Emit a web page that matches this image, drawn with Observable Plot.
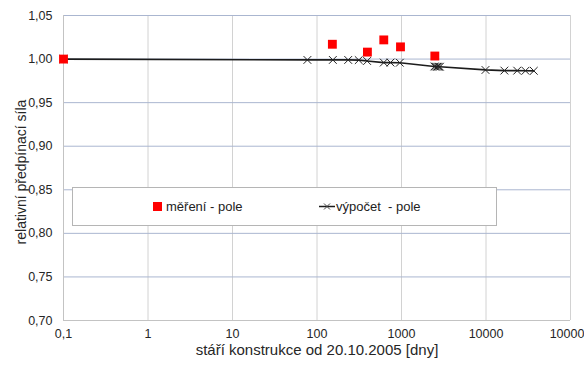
<!DOCTYPE html>
<html>
<head>
<meta charset="utf-8">
<script src="https://cdn.jsdelivr.net/npm/d3@7"></script>
<script src="https://cdn.jsdelivr.net/npm/@observablehq/plot@0.6"></script>
<style>
  body { margin: 0; background: #fff; font-family: "Liberation Sans", Arial, sans-serif; }
  #wrap { position: relative; width: 584px; height: 365px; overflow: hidden; }
  .legend { position: absolute; left: 72px; top: 187px; width: 423px; height: 37px;
            background: #fff; border: 1px solid #b5b5b5; font-size: 13px; color: #222; }
  .legend span { position: absolute; white-space: pre; line-height: 17px; }
  .legend .sq { left: 80px; top: 14px; width: 9px; height: 9px; background: #ff0000; }
  .legend svg { position: absolute; left: 246px; top: 13px; }
</style>
</head>
<body>
<div id="wrap"></div>
<script>
// ---- data ----
const measDays = [0.1, 152, 395, 617, 973, 2480];
const measVals = [1.000, 1.017, 1.008, 1.022, 1.014, 1.0035];

const calcDays = [0.1, 77, 154, 234, 312, 392, 617, 741, 955, 2450, 2550, 2650, 2750, 2850, 9860, 16500, 23400, 29300, 36800];
const calcVals = [1.000, 0.999, 0.999, 0.999, 0.9988, 0.9978, 0.996, 0.996, 0.9958, 0.9915, 0.9913, 0.9912, 0.9912, 0.9912, 0.9875, 0.9868, 0.9867, 0.9866, 0.9865];

const xTicks = [0.1, 1, 10, 100, 1000, 10000, 100000];
const yTicks = [0.70, 0.75, 0.80, 0.85, 0.90, 0.95, 1.00, 1.05];

const seriesNames = ["měření - pole", "výpočet  - pole"];
const xTitle = "stáří konstrukce od 20.10.2005 [dny]";
const yTitle = "relativní předpínací síla";

// ---- tables ----
const meas = measDays.map((d, i) => ({x: d, y: measVals[i]}));
const calc = calcDays.map((d, i) => ({x: d, y: calcVals[i]}));

const fmtX = d => String(d).replace(".", ",");
const fmtY = d => d.toFixed(2).replace(".", ",");

const chart = Plot.plot({
  width: 584,
  height: 365,
  marginLeft: 63,
  marginRight: 14,
  marginTop: 15,
  marginBottom: 45,
  style: { fontSize: "12.5px", fontFamily: "Liberation Sans, Arial, sans-serif", color: "#262626", background: "#fff" },
  x: { type: "log", domain: [0.1, 100000], ticks: xTicks, tickFormat: fmtX, tickSize: 0, tickPadding: 9, label: null },
  y: { domain: [0.70, 1.05], ticks: yTicks, tickFormat: fmtY, tickSize: 0, tickPadding: 11, label: null },
  marks: [
    Plot.ruleX(xTicks.slice(1), { stroke: "#d2d2d2" }),
    Plot.ruleY(yTicks.slice(1), { stroke: "#aab6d0" }),
    Plot.ruleX(xTicks.slice(0, 1), { stroke: "#c3c3c3" }),
    Plot.ruleY(yTicks.slice(0, 1), { stroke: "#c3c3c3" }),
    Plot.line(calc, { x: "x", y: "y", stroke: "#1c1c1c", strokeWidth: 1.7 }),
    Plot.dot(calc, { x: "x", y: "y", symbol: "times", r: 3.6, stroke: "#222", strokeWidth: 1 }),
    Plot.dot(meas, { x: "x", y: "y", symbol: "square", r: 5, fill: "#ff0000", stroke: null }),
    Plot.text([xTitle], { frameAnchor: "bottom", dy: 34, fontSize: 15, fill: "#262626" }),
    Plot.text([yTitle], { frameAnchor: "left", textAnchor: "middle", dx: -42, dy: 4, rotate: -90, fontSize: 14, fill: "#262626" })
  ]
});

const wrap = document.getElementById("wrap");
wrap.appendChild(chart);

// legend (HTML overlay, inside the plot area)
const lg = document.createElement("div");
lg.className = "legend";
lg.innerHTML =
  `<span class="sq"></span>` +
  `<span style="left:93px;top:10px">${seriesNames[0]}</span>` +
  `<svg width="17" height="11"><line x1="0" y1="5.5" x2="16" y2="5.5" stroke="#1c1c1c" stroke-width="1.5"/>` +
  `<path d="M5 2.5L11 8.5M11 2.5L5 8.5" stroke="#444" stroke-width="1"/></svg>` +
  `<span style="left:263px;top:10px">${seriesNames[1]}</span>`;
wrap.appendChild(lg);
</script>
</body>
</html>
